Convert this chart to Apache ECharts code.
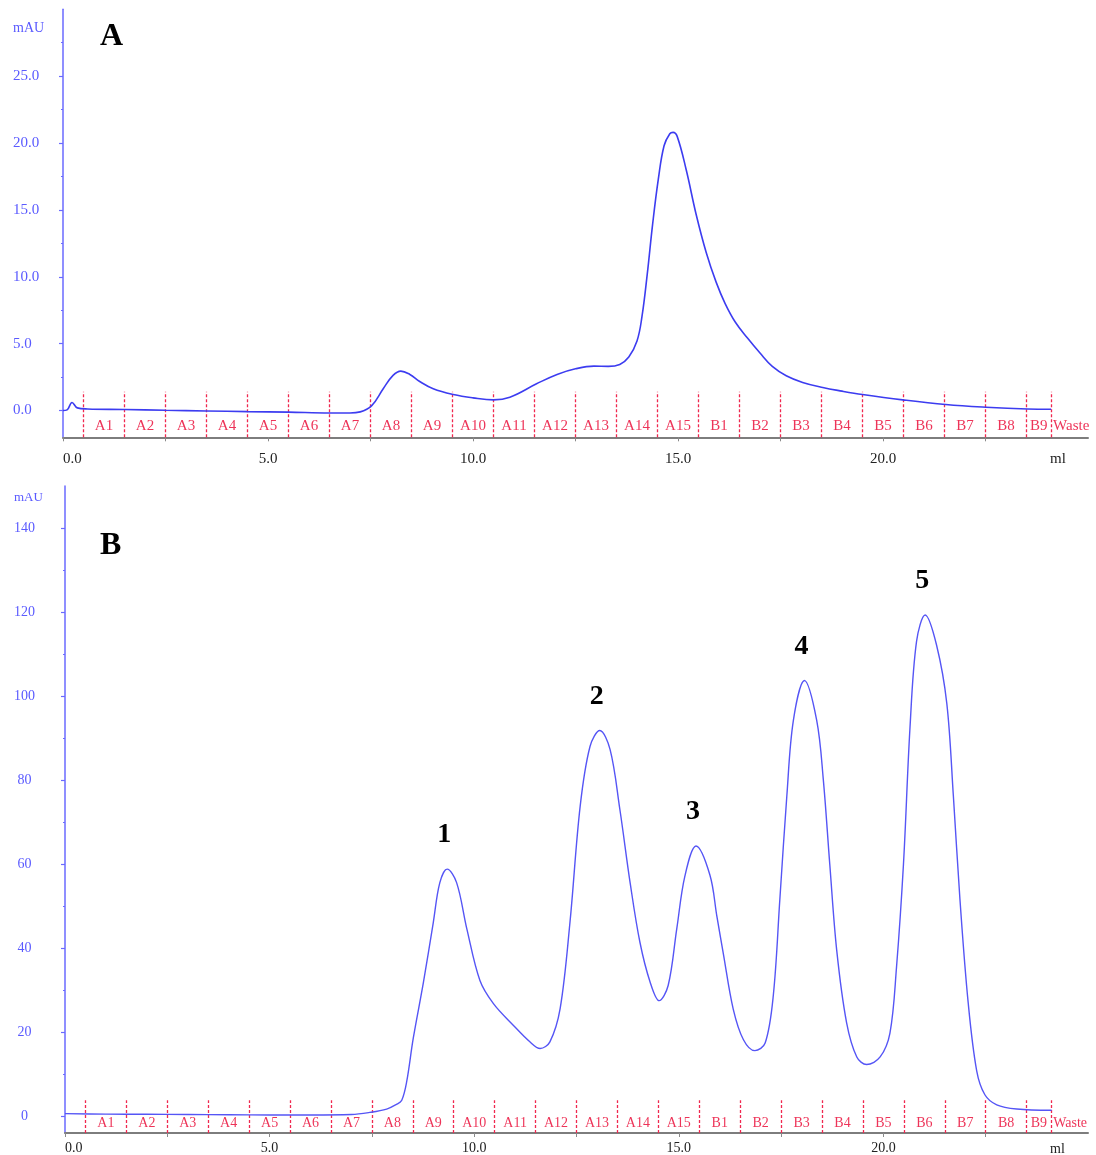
<!DOCTYPE html>
<html>
<head>
<meta charset="utf-8">
<script src="https://cdn.jsdelivr.net/npm/echarts@6/dist/echarts.min.js"></script>
<style>
html,body{margin:0;padding:0;background:#fff;}
#chart{width:1096px;height:1155px;}
</style>
</head>
<body>
<div id="chart"></div>
<script>
// ---------- DATA ----------
// Panel A chromatogram (volume ml, absorbance mAU)
const topX = [0, 0.1, 0.22, 0.35, 0.6, 1.5, 2.5, 3.5, 4.5, 5.5, 6.5, 7.0, 7.25, 7.53, 7.81, 8.05, 8.24, 8.46, 8.7, 9.03, 9.52, 10.0, 10.5, 10.9, 11.55, 12.05, 12.5, 12.95, 13.3, 13.58, 13.8, 14.0, 14.12, 14.25, 14.38, 14.52, 14.66, 14.8, 14.88, 14.98, 15.2, 15.44, 15.69, 15.93, 16.15, 16.4, 16.7, 17.0, 17.3, 17.64, 18.04, 18.53, 19.0, 19.5, 20.48, 21.53, 22.51, 23.52, 24.1];
const topY = [0.0, 0.05, 0.6, 0.2, 0.12, 0.08, 0.02, -0.03, -0.08, -0.12, -0.18, -0.18, -0.1, 0.37, 1.63, 2.63, 2.95, 2.7, 2.17, 1.63, 1.2, 0.95, 0.8, 1.0, 2.0, 2.7, 3.12, 3.32, 3.3, 3.45, 4.0, 5.2, 7.0, 10.2, 13.9, 17.3, 19.8, 20.7, 20.8, 20.5, 18.0, 14.7, 11.8, 9.6, 8.0, 6.6, 5.4, 4.3, 3.3, 2.6, 2.1, 1.72, 1.45, 1.2, 0.8, 0.45, 0.25, 0.12, 0.1];

// Panel B chromatogram
const botX = [0, 1, 2, 3, 4, 5, 6, 7, 7.45, 7.86, 8.1, 8.23, 8.35, 8.51, 8.76, 9.0, 9.16, 9.34, 9.57, 9.82, 10.14, 10.47, 10.96, 11.36, 11.61, 11.85, 12.1, 12.34, 12.59, 12.83, 13.07, 13.32, 13.56, 13.81, 14.05, 14.3, 14.52, 14.74, 14.95, 15.15, 15.42, 15.76, 15.93, 16.09, 16.33, 16.58, 16.86, 17.11, 17.31, 17.47, 17.64, 17.8, 18.07, 18.37, 18.53, 18.69, 18.86, 19.1, 19.35, 19.59, 19.92, 20.16, 20.32, 20.49, 20.65, 20.81, 21.02, 21.3, 21.55, 21.71, 21.87, 22.07, 22.28, 22.48, 22.77, 23.26, 24.11];
const botY = [0.6, 0.5, 0.45, 0.4, 0.35, 0.3, 0.3, 0.4, 0.9, 1.7, 2.8, 3.8, 8.2, 18.5, 31.9, 46.1, 55.6, 58.8, 55.6, 44.6, 32.3, 26.8, 21.6, 17.7, 16.1, 17.7, 25.6, 46.1, 73.8, 88.0, 91.8, 87.3, 73.0, 55.6, 41.4, 31.9, 27.5, 31.1, 44.6, 57.2, 64.3, 57.4, 47.6, 38.6, 25.5, 18.2, 15.6, 17.4, 28.8, 51.7, 76.2, 94.2, 103.7, 94.2, 80.3, 59.9, 39.4, 22.3, 14.1, 12.3, 14.1, 19.8, 35.4, 59.9, 92.5, 113, 119.3, 112.1, 98.2, 76.2, 51.7, 27.2, 10.8, 5.1, 2.7, 1.7, 1.4];

// Peak labels for panel B
const peakNames = ['1', '2', '3', '4', '5'];
const peakX = [9.34, 13.07, 15.42, 18.07, 21.02];

// Fractions
const fractionNames = ['A1','A2','A3','A4','A5','A6','A7','A8','A9','A10','A11','A12','A13','A14','A15','B1','B2','B3','B4','B5','B6','B7','B8','B9','Waste'];
const fractionBounds = [0.5,1.5,2.5,3.5,4.5,5.5,6.5,7.5,8.5,9.5,10.5,11.5,12.5,13.5,14.5,15.5,16.5,17.5,18.5,19.5,20.5,21.5,22.5,23.5,24.1];

// Axis ticks
const xLabelValues = [0, 5, 10, 15, 20];
const xTickValues = [0, 2.5, 5, 7.5, 10, 12.5, 15, 17.5, 20, 22.5];
const topYLabels = [0, 5, 10, 15, 20, 25];
const topYMinor = [2.5, 7.5, 12.5, 17.5, 22.5, 27.5];
const botYLabels = [0, 20, 40, 60, 80, 100, 120, 140];
const botYMinor = [10, 30, 50, 70, 90, 110, 130];

// ---------- BUILD ----------
const FONT = '"Liberation Serif", "Times New Roman", serif';
const zip = (xs, ys) => xs.map((x, i) => [x, ys[i]]);
const topData = zip(topX, topY);
const botData = zip(botX, botY);

const centers = fractionNames.map((n, i) =>
  i < fractionBounds.length - 1 ? (fractionBounds[i] + fractionBounds[i + 1]) / 2 : fractionBounds[fractionBounds.length - 1]);

const BLUE = '#3c3cf0';
const AXBLUE = '#6a6aff';
const RED = '#e8002e';
const DASHRED = '#f0284f';

function fractionLabelData(yPos) {
  return fractionNames.map((n, i) => {
    const item = { value: [centers[i], yPos, n] };
    if (n === 'Waste') item.label = { align: 'left', offset: [2, 0] };
    return item;
  });
}
function boundaryLines(lo, hi) {
  return fractionBounds.map(b => [{ coord: [b, lo] }, { coord: [b, hi] }]);
}

function xAxisDef(gridIndex, fs, margin) {
  return {
    type: 'value', gridIndex, min: 0, max: 25,
    axisLine: { show: true, onZero: false, lineStyle: { color: '#7d7d7d', width: 2 } },
    axisTick: { show: true, customValues: xTickValues, length: 4, lineStyle: { color: '#8a8a8a', width: 1 } },
    axisLabel: {
      show: true, customValues: xLabelValues, margin, color: '#222', fontFamily: FONT, fontSize: fs,
      formatter: v => v.toFixed(1), alignMinLabel: 'left'
    },
    splitLine: { show: false }
  };
}
function yAxisDef(gridIndex, min, max, labels, fmt, fs, align, margin) {
  return {
    type: 'value', gridIndex, min, max, position: 'left',
    axisLine: { show: true, lineStyle: { color: AXBLUE, width: 1.5 } },
    axisTick: { show: true, customValues: labels, length: 4, lineStyle: { color: AXBLUE, width: 1.2 } },
    axisLabel: { show: true, customValues: labels, color: '#5a5aff', fontFamily: FONT, fontSize: fs, align, margin, formatter: fmt },
    splitLine: { show: false }
  };
}
function yMinorDef(gridIndex, min, max, ticks) {
  return {
    type: 'value', gridIndex, min, max, position: 'left', offset: 0,
    axisLine: { show: false },
    axisTick: { show: true, customValues: ticks, length: 2, lineStyle: { color: AXBLUE, width: 1.2 } },
    axisLabel: { show: false },
    splitLine: { show: false }
  };
}

const peakMarks = peakNames.map((n, i) => {
  const idx = botX.indexOf(peakX[i]);
  return { coord: [peakX[i], botY[idx]], value: n };
});

const dashStyle = { color: DASHRED, type: [3, 2], width: 1.3, opacity: 1 };

const option = {
  animation: false,
  backgroundColor: '#fff',
  grid: [
    { left: 63, right: 8, top: 9.3, height: 428 },
    { left: 65, right: 8, top: 486, height: 648.7 }
  ],
  xAxis: [xAxisDef(0, 15, 14), xAxisDef(1, 14, 8)],
  yAxis: [
    yAxisDef(0, -2, 30, topYLabels, v => v.toFixed(1), 15, 'left', 50),
    yMinorDef(0, -2, 30, topYMinor),
    yAxisDef(1, -4, 150, botYLabels, v => String(v), 14, 'center', 40.5),
    yMinorDef(1, -4, 150, botYMinor)
  ],
  series: [
    {
      type: 'line', xAxisIndex: 0, yAxisIndex: 0, data: topData, smooth: 0.4,
      showSymbol: false, lineStyle: { color: BLUE, width: 1.6 }, z: 5,
      markLine: {
        silent: true, symbol: ['none', 'none'], label: { show: false },
        lineStyle: dashStyle, emphasis: { disabled: true },
        data: boundaryLines(-2, 1.4)
      }
    },
    {
      type: 'scatter', xAxisIndex: 0, yAxisIndex: 0, symbolSize: 0, silent: true,
      data: fractionLabelData(-1.15),
      label: { show: true, position: 'inside', color: RED, fontFamily: FONT, fontSize: 15, formatter: p => p.data.value[2] }
    },
    {
      type: 'line', xAxisIndex: 1, yAxisIndex: 2, data: botData, smooth: 0.35,
      showSymbol: false, lineStyle: { color: '#5555f5', width: 1.4 }, z: 5,
      markLine: {
        silent: true, symbol: ['none', 'none'], label: { show: false },
        lineStyle: dashStyle, emphasis: { disabled: true },
        data: boundaryLines(-4, 3.8)
      },
      markPoint: {
        symbol: 'circle', symbolSize: 0, silent: true,
        label: { show: true, position: 'inside', offset: [-3, -34], color: '#000', fontFamily: FONT, fontWeight: 'bold', fontSize: 28, formatter: p => p.value },
        data: peakMarks
      }
    },
    {
      type: 'scatter', xAxisIndex: 1, yAxisIndex: 2, symbolSize: 0, silent: true,
      data: fractionLabelData(-1.8),
      label: { show: true, position: 'inside', color: RED, fontFamily: FONT, fontSize: 14, formatter: p => p.data.value[2] }
    }
  ],
  graphic: [
    { type: 'text', left: 13, top: 21, style: { text: 'mAU', fill: '#5a5aff', font: '14px ' + FONT } },
    { type: 'text', left: 14, top: 491, style: { text: 'mAU', fill: '#5a5aff', font: '13px ' + FONT } },
    { type: 'text', left: 100, top: 21, style: { text: 'A', fill: '#000', font: 'bold 32px ' + FONT } },
    { type: 'text', left: 100, top: 530, style: { text: 'B', fill: '#000', font: 'bold 32px ' + FONT } },
    { type: 'text', left: 1050, top: 452, style: { text: 'ml', fill: '#222', font: '15px ' + FONT } },
    { type: 'text', left: 1050, top: 1142, style: { text: 'ml', fill: '#222', font: '14px ' + FONT } }
  ]
};

const chart = echarts.init(document.getElementById('chart'), null, { renderer: 'canvas' });
chart.setOption(option);
</script>
</body>
</html>
